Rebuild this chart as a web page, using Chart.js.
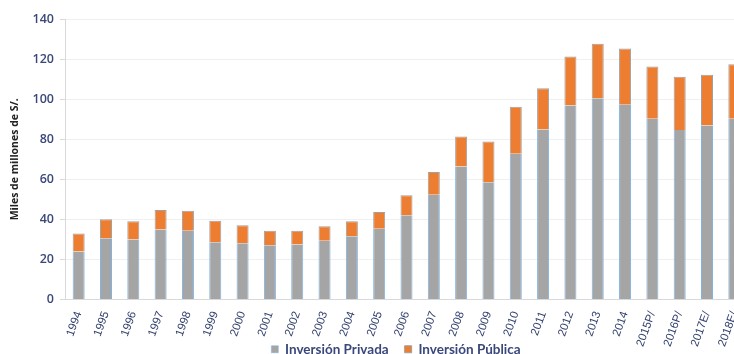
<!DOCTYPE html>
<html><head><meta charset="utf-8">
<script src="https://cdn.jsdelivr.net/npm/chart.js@4"></script>
<style>html,body{margin:0;padding:0;overflow:hidden;background:#fff;width:734px;height:354px}#wrap{position:absolute;left:0;top:0;width:778px;height:354px}</style>
</head><body><div id="wrap"><canvas id="c"></canvas></div>
<script>
const categories = ['1994','1995','1996','1997','1998','1999','2000','2001','2002','2003','2004','2005','2006','2007','2008','2009','2010','2011','2012','2013','2014','2015P/','2016P/','2017E/','2018E/'];
const privada = [24.0,30.6,30.0,35.0,34.3,28.6,28.1,27.1,27.4,29.3,31.6,35.3,42.1,52.3,66.4,58.5,72.8,84.9,96.8,100.5,97.2,90.2,84.6,86.8,90.2];
const publica = [9.0,9.5,9.0,9.7,10.0,10.7,9.0,7.2,6.9,7.2,7.4,8.4,9.9,11.3,14.9,20.3,23.4,20.5,24.5,27.1,28.1,26.1,26.6,25.4,27.2];
const yMin = 0, yMax = 140, yStep = 20;
const seriesNames = ['Inversión Privada','Inversión Pública'];
const yTitle = 'Miles de millones de S/.';

const labelColor = '#3a477a';
const LEGEND_PAD = 16;
const adjustLayout = {
  id: 'adjustLayout',
  afterLayout(chart) {
    const lg = chart.legend;
    if (lg) { lg.left += 22; lg.right += 22; lg.top += 12; lg.bottom += 12; }
  }
};
new Chart(document.getElementById('c'), {
  type: 'bar',
  data: {
    labels: categories,
    datasets: [
      {label: seriesNames[0], data: privada, backgroundColor: '#a5a5a5', borderColor: '#7eb3e3', borderWidth: {left:1,right:1,top:0,bottom:0}, borderSkipped: false},
      {label: seriesNames[1], data: publica, backgroundColor: '#ed7d31', borderColor: '#a0a0a0', borderWidth: 1, borderSkipped: 'start'}
    ]
  },
  plugins: [adjustLayout],
  options: {
    responsive: true, maintainAspectRatio: false, animation: false,
    layout: {padding: {top: 19, right: 30, left: 0, bottom: 0}},
    datasets: {bar: {barPercentage: 0.44, categoryPercentage: 1}},
    plugins: {
      tooltip: {enabled: false},
      legend: {
        position: 'bottom',
        labels: {boxWidth: 7, boxHeight: 7, padding: LEGEND_PAD, color: labelColor, font: {family: 'Lato', size: 13.5, weight: 'bold'}}
      }
    },
    scales: {
      x: {
        stacked: true,
        afterFit: s => { s.height = 15; s._computeLabelArea = () => undefined; },
        grid: {display: false},
        border: {color: '#d9d9d9'},
        ticks: {minRotation: 70, maxRotation: 70, color: '#34426f', padding: 2, font: {family: 'Liberation Sans', size: 11.5}}
      },
      y: {
        stacked: true, min: yMin, max: yMax,
        afterFit: s => { s.width = 65; },
        ticks: {stepSize: yStep, color: labelColor, padding: 6, font: {family: 'Open Sans', size: 12.5, weight: '600'}},
        grid: {color: '#f0f0f0', tickLength: 5, tickColor: '#d9d9d9'},
        border: {color: '#d9d9d9'},
        title: {display: true, text: yTitle, color: '#222', padding: {top: 9, bottom: 2}, font: {family: 'Open Sans', size: 10.5, weight: 'bold'}}
      }
    }
  }
});
</script></body></html>
